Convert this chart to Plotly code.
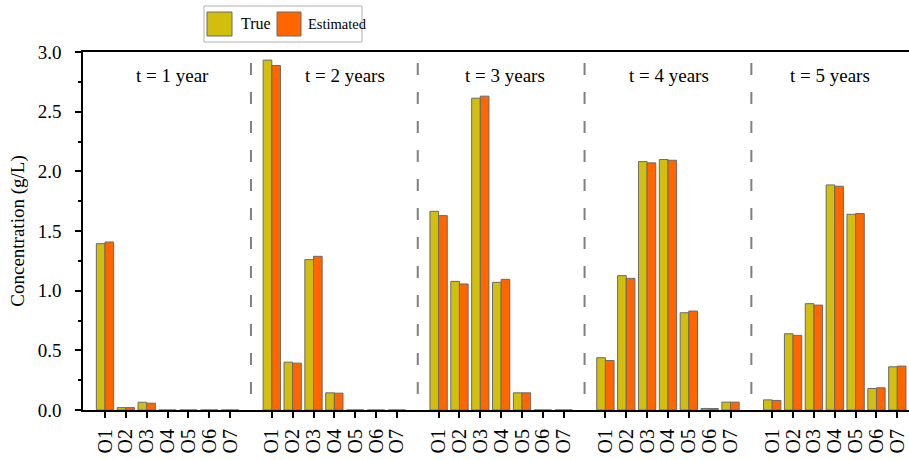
import plotly.graph_objects as go

# ---- data ----
years = ["t = 1 year", "t = 2 years", "t = 3 years", "t = 4 years", "t = 5 years"]
wells = ["O1", "O2", "O3", "O4", "O5", "O6", "O7"]

true_y1 = [1.394, 0.020, 0.065, 0.0, 0.0, 0.0, 0.0]
true_y2 = [2.932, 0.401, 1.260, 0.144, 0.0, 0.0, 0.0]
true_y3 = [1.665, 1.078, 2.613, 1.070, 0.144, 0.0, 0.0]
true_y4 = [0.438, 1.126, 2.082, 2.099, 0.815, 0.013, 0.066]
true_y5 = [0.085, 0.639, 0.891, 1.886, 1.640, 0.180, 0.362]

est_y1 = [1.408, 0.020, 0.057, 0.0, 0.0, 0.0, 0.0]
est_y2 = [2.887, 0.393, 1.288, 0.141, 0.0, 0.0, 0.0]
est_y3 = [1.629, 1.056, 2.630, 1.095, 0.144, 0.0, 0.0]
est_y4 = [0.415, 1.103, 2.071, 2.093, 0.829, 0.012, 0.066]
est_y5 = [0.080, 0.625, 0.879, 1.875, 1.646, 0.186, 0.368]

true_all = [true_y1, true_y2, true_y3, true_y4, true_y5]
est_all = [est_y1, est_y2, est_y3, est_y4, est_y5]

# ---- layout helpers ----
SLOT = 8  # 7 wells + 1 gap per year
xs, tt, yt, ye = [], [], [], []
for g in range(len(years)):
    for i, w in enumerate(wells):
        xs.append(g * SLOT + i)
        tt.append(w)
        yt.append(true_all[g][i])
        ye.append(est_all[g][i])

FONT = "Liberation Serif, Times New Roman, serif"
C_TRUE = "#D2BE0C"
C_EST = "#FF6600"
EDGE = "#6a6a6a"

fig = go.Figure()
fig.add_trace(go.Bar(x=xs, y=yt, name="True", marker=dict(color=C_TRUE, line=dict(color=EDGE, width=1)), showlegend=False))
fig.add_trace(go.Bar(x=xs, y=ye, name="Estimated", marker=dict(color=C_EST, line=dict(color=EDGE, width=1)), showlegend=False))

W, H = 909, 460
ML, MT, MB, MR = 83, 52, 50, 0
PW = W - ML - MR
PH = H - MT - MB

def px_x(p):
    return (p - ML) / PW

def px_y(p):
    return (H - MB - p) / PH

shapes = []
# dashed separators between years
for g in range(1, len(years)):
    xd = g * SLOT - 1
    shapes.append(dict(type="line", xref="x", yref="paper", x0=xd, x1=xd, y0=px_y(63), y1=0,
                       line=dict(color="#7f7f7f", width=2, dash="12px,17px")))

# custom legend
shapes.append(dict(type="rect", xref="paper", yref="paper", x0=px_x(204), x1=px_x(362), y0=px_y(42), y1=px_y(6),
                   line=dict(color="#b0b0b0", width=1), fillcolor="white"))
shapes.append(dict(type="rect", xref="paper", yref="paper", x0=px_x(207), x1=px_x(232), y0=px_y(36), y1=px_y(12),
                   line=dict(color=EDGE, width=1), fillcolor=C_TRUE))
shapes.append(dict(type="rect", xref="paper", yref="paper", x0=px_x(277), x1=px_x(301), y0=px_y(36), y1=px_y(12),
                   line=dict(color=EDGE, width=1), fillcolor=C_EST))

annotations = []
ann_x = [3.26, 11.52, 19.16, 27.03, 34.77]
for g, lab in enumerate(years):
    annotations.append(dict(x=ann_x[g], y=2.8, xref="x", yref="y", text=lab, showarrow=False,
                            font=dict(family=FONT, size=19, color="black"), xanchor="center", yanchor="middle"))
annotations.append(dict(x=px_x(239), y=px_y(24), xref="paper", yref="paper", text="True", showarrow=False,
                        font=dict(family=FONT, size=16, color="black"), xanchor="left", yanchor="middle"))
annotations.append(dict(x=px_x(306), y=px_y(24), xref="paper", yref="paper", text="Estimated", showarrow=False,
                        font=dict(family=FONT, size=14.5, color="black"), xanchor="left", yanchor="middle"))

fig.update_layout(
    width=W, height=H,
    margin=dict(l=ML, r=MR, t=MT, b=MB, pad=0, autoexpand=False),
    paper_bgcolor="white", plot_bgcolor="white",
    barmode="group", bargap=0.17, bargroupgap=0,
    font=dict(family=FONT, color="black"),
    shapes=shapes, annotations=annotations,
    xaxis=dict(range=[-1.055, 38.56], tickmode="array", tickvals=xs, ticktext=tt, tickangle=-90,
               ticks="outside", ticklen=6, tickwidth=1.5, tickcolor="black", automargin=False,
               showline=True, linecolor="black", linewidth=2, mirror=True, ticklabelstandoff=3,
               showgrid=False, zeroline=False, tickfont=dict(family=FONT, size=20, color="black")),
    yaxis=dict(range=[0, 3], dtick=0.5, tickformat=".1f", automargin=False,
               ticks="outside", ticklen=6, tickwidth=1.5, tickcolor="black",
               minor=dict(dtick=0.25, ticks="outside", ticklen=3, tickwidth=1.5, tickcolor="black"),
               showline=True, linecolor="black", linewidth=1.5,
               showgrid=False, zeroline=False, ticklabelstandoff=10,
               tickfont=dict(family=FONT, size=19, color="black"),
               title=dict(text="Concentration (g/L)", font=dict(family=FONT, size=19, color="black"), standoff=8)),
)

fig.write_html("out.html", config={"displayModeBar": False},
               post_script="document.body.style.margin='0';document.body.style.overflow='hidden';")
